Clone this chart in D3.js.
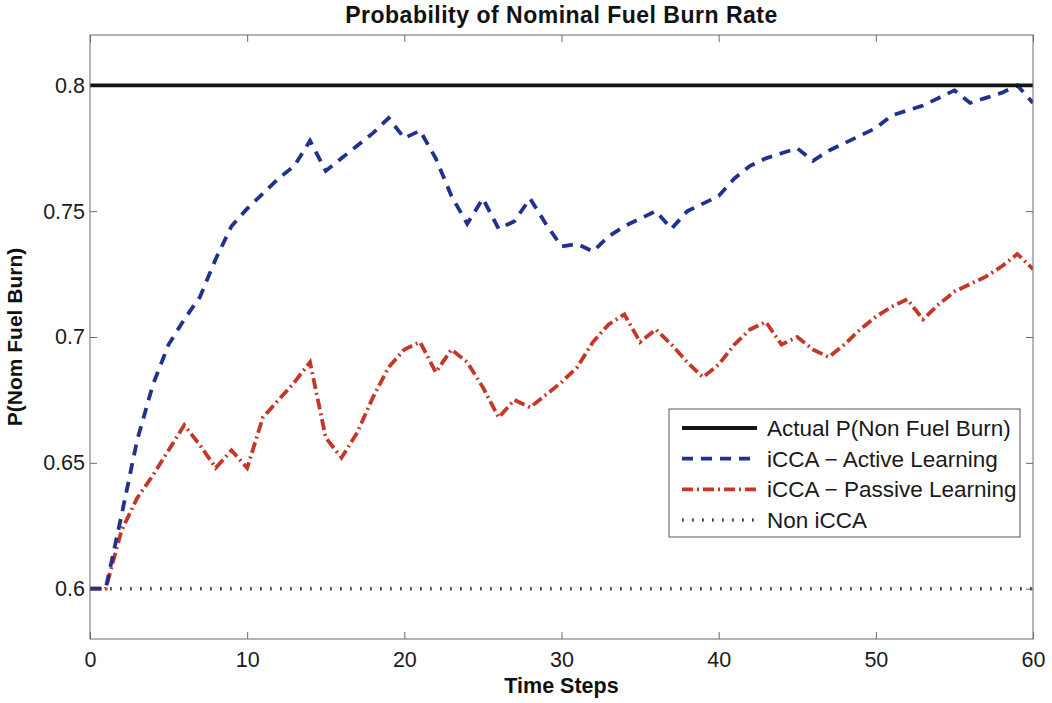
<!DOCTYPE html>
<html>
<head>
<meta charset="utf-8">
<script src="https://cdn.jsdelivr.net/npm/d3@7"></script>
<style>
  html, body { margin: 0; padding: 0; background: #fff; }
  svg { display: block; font-family: "Liberation Sans", Arial, Helvetica, sans-serif; }
</style>
</head>
<body>
<svg id="chart" width="1052" height="703"></svg>
<script>
// Time steps 0..60
const steps = d3.range(0, 61);

// Estimated probability of nominal fuel burn, active learning
const activeLearning = [
  0.600, 0.600, 0.629, 0.659, 0.681, 0.697, 0.707, 0.716, 0.731, 0.744,
  0.751, 0.757, 0.763, 0.768, 0.778, 0.766, 0.771, 0.776, 0.781, 0.787,
  0.779, 0.782, 0.771, 0.756, 0.745, 0.755, 0.743, 0.746, 0.755, 0.745,
  0.736, 0.737, 0.734, 0.740, 0.744, 0.747, 0.750, 0.743, 0.750, 0.753,
  0.756, 0.763, 0.768, 0.771, 0.773, 0.775, 0.770, 0.774, 0.777, 0.780,
  0.783, 0.788, 0.790, 0.792, 0.795, 0.798, 0.793, 0.795, 0.797, 0.800,
  0.793
];

// Estimated probability of nominal fuel burn, passive learning
const passiveLearning = [
  0.600, 0.600, 0.623, 0.636, 0.645, 0.655, 0.665, 0.657, 0.648, 0.655,
  0.648, 0.668, 0.675, 0.682, 0.690, 0.660, 0.652, 0.662, 0.676, 0.688,
  0.695, 0.698, 0.686, 0.695, 0.690, 0.680, 0.668, 0.675, 0.672, 0.677,
  0.682, 0.688, 0.698, 0.705, 0.709, 0.698, 0.703, 0.697, 0.690, 0.684,
  0.689, 0.697, 0.703, 0.706, 0.697, 0.700, 0.695, 0.692, 0.697, 0.703,
  0.708, 0.712, 0.715, 0.707, 0.713, 0.718, 0.721, 0.724, 0.728, 0.733,
  0.727
];

// Constant reference levels
const actualValue = 0.8;
const nonICCAValue = 0.6;

const xTicks = [0, 10, 20, 30, 40, 50, 60];
const yTicks = [0.6, 0.65, 0.7, 0.75, 0.8];
const yTickLabels = ["0.6", "0.65", "0.7", "0.75", "0.8"];

const seriesNames = [
  "Actual P(Non Fuel Burn)",
  "iCCA \u2212 Active Learning",
  "iCCA \u2212 Passive Learning",
  "Non iCCA"
];

const W = 1052, H = 703;
const margin = { top: 35, right: 19, bottom: 64, left: 90 };
const iw = W - margin.left - margin.right;
const ih = H - margin.top - margin.bottom;

const svg = d3.select("#chart");
const g = svg.append("g").attr("transform", `translate(${margin.left},${margin.top})`);

const x = d3.scaleLinear().domain([0, 60]).range([0, iw]);
const y = d3.scaleLinear().domain([0.58, 0.82]).range([ih, 0]);

const styles = [
  { color: "#141414", width: 3.8, dash: null },
  { color: "#22318f", width: 3.8, dash: "11,8" },
  { color: "#c33826", width: 3.8, dash: "11,4,2,4" },
  { color: "#4a4a4a", width: 3.5, dash: "1.8,8.2" }
];

const frameColor = "#6a6a6a";

// Axes (box with inward ticks on all four sides)
const tickLen = 7;
const xAxisB = d3.axisBottom(x).tickValues(xTicks).tickSize(-tickLen).tickPadding(13).tickFormat(d3.format("d"));
const xAxisT = d3.axisTop(x).tickValues(xTicks).tickSize(-tickLen).tickFormat("");
const yAxisL = d3.axisLeft(y).tickValues(yTicks).tickSize(-tickLen).tickPadding(5)
  .tickFormat((d, i) => yTickLabels[i]);
const yAxisR = d3.axisRight(y).tickValues(yTicks).tickSize(-tickLen).tickFormat("");

function styleAxis(sel) {
  sel.select(".domain").remove();
  sel.selectAll(".tick line").attr("stroke", frameColor).attr("stroke-width", 1);
  sel.selectAll(".tick text").attr("fill", "#1a1a1a").style("font-size", "21.5px")
    .style("font-family", "'Liberation Sans', Arial, sans-serif");
}

g.append("g").attr("transform", `translate(0,${ih})`).call(xAxisB).call(styleAxis);
g.append("g").call(xAxisT).call(styleAxis);
g.append("g").call(yAxisL).call(styleAxis);
g.append("g").attr("transform", `translate(${iw},0)`).call(yAxisR).call(styleAxis);

// Clip lines to plot area
svg.append("defs").append("clipPath").attr("id", "plotClip")
  .append("rect").attr("x", 0).attr("y", 0).attr("width", iw).attr("height", ih);

const plot = g.append("g").attr("clip-path", "url(#plotClip)");

const line = d3.line().x(d => x(d[0])).y(d => y(d[1]));

const seriesData = [
  steps.map(t => [t, actualValue]),
  steps.map((t, i) => [t, activeLearning[i]]),
  steps.map((t, i) => [t, passiveLearning[i]]),
  steps.map(t => [t, nonICCAValue])
];

// draw order: dotted first, then passive, active, actual
[3, 2, 1, 0].forEach(k => {
  plot.append("path")
    .datum(seriesData[k])
    .attr("fill", "none")
    .attr("stroke", styles[k].color)
    .attr("stroke-width", styles[k].width)
    .attr("stroke-dasharray", styles[k].dash)
    .attr("stroke-linejoin", "miter")
    .attr("d", line);
});

// Frame
g.append("rect").attr("x", 0).attr("y", 0).attr("width", iw).attr("height", ih)
  .attr("fill", "none").attr("stroke", frameColor).attr("stroke-width", 1);

// Title and axis labels
svg.append("text")
  .attr("x", margin.left + iw / 2).attr("y", 23)
  .attr("text-anchor", "middle")
  .style("font-weight", "bold").style("font-size", "23px").style("letter-spacing", "0.5px")
  .attr("fill", "#111")
  .text("Probability of Nominal Fuel Burn Rate");

svg.append("text")
  .attr("x", margin.left + iw / 2).attr("y", 693)
  .attr("text-anchor", "middle")
  .style("font-weight", "bold").style("font-size", "21.5px").attr("fill", "#111")
  .text("Time Steps");

svg.append("text")
  .attr("transform", `translate(22,${margin.top + ih / 2}) rotate(-90)`)
  .attr("text-anchor", "middle")
  .style("font-weight", "bold").style("font-size", "21px").attr("fill", "#111")
  .text("P(Nom Fuel Burn)");

// Legend
const lg = svg.append("g").attr("transform", "translate(669,409)");
lg.append("rect").attr("x", 0).attr("y", 0).attr("width", 351).attr("height", 128)
  .attr("fill", "#fff").attr("stroke", "#555").attr("stroke-width", 1);

seriesNames.forEach((name, i) => {
  const yy = 19 + i * 30.7;
  lg.append("line")
    .attr("x1", 13).attr("x2", 88).attr("y1", yy).attr("y2", yy)
    .attr("stroke", styles[i].color)
    .attr("stroke-width", styles[i].width)
    .attr("stroke-dasharray", styles[i].dash);
  lg.append("text")
    .attr("x", 98).attr("y", yy).attr("dy", "0.35em")
    .style("font-size", "22.5px").attr("fill", "#1a1a1a")
    .text(name);
});
</script>
</body>
</html>
